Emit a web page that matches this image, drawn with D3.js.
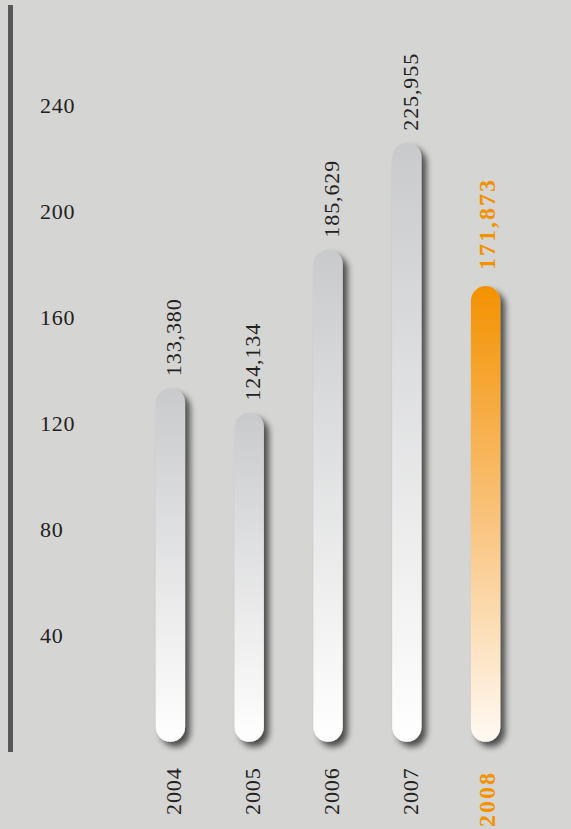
<!DOCTYPE html>
<html>
<head>
<meta charset="utf-8">
<script src="https://cdn.jsdelivr.net/npm/d3@7"></script>
<style>
  body { margin: 0; background: #d5d5d3; }
  svg { display: block; }
</style>
</head>
<body>
<svg width="571" height="829"></svg>
<script>
// values in thousands
const years = ["2004", "2005", "2006", "2007", "2008"];
const values = [133.380, 124.134, 185.629, 225.955, 171.873];
const valueLabels = ["133,380", "124,134", "185,629", "225,955", "171,873"];
const ticks = [40, 80, 120, 160, 200, 240];

const svg = d3.select("svg");

const y = d3.scaleLinear().domain([0, 240]).range([741.7, 105.5]);
const x = d3.scaleBand().domain(years).range([131, 525])
  .paddingInner(0.628).paddingOuter(0.314);

const defs = svg.append("defs");

// gradients
const grey = defs.append("linearGradient").attr("id", "grey")
  .attr("x1", 0).attr("y1", 0).attr("x2", 0).attr("y2", 1);
grey.append("stop").attr("offset", "0%").attr("stop-color", "#c9cacc");
grey.append("stop").attr("offset", "100%").attr("stop-color", "#ffffff");

const orange = defs.append("linearGradient").attr("id", "orange")
  .attr("x1", 0).attr("y1", 0).attr("x2", 0).attr("y2", 1);
orange.append("stop").attr("offset", "0%").attr("stop-color", "#f39200");
orange.append("stop").attr("offset", "50%").attr("stop-color", "#f9c27a");
orange.append("stop").attr("offset", "100%").attr("stop-color", "#fffaf4");

// drop shadow
const f = defs.append("filter").attr("id", "shadow")
  .attr("x", "-50%").attr("y", "-10%").attr("width", "200%").attr("height", "130%");
f.append("feGaussianBlur").attr("in", "SourceAlpha").attr("stdDeviation", 3.2);
f.append("feOffset").attr("dx", 5).attr("dy", 5).attr("result", "blur");
f.append("feComponentTransfer").append("feFuncA").attr("type", "linear").attr("slope", 0.65);
const merge = f.append("feMerge");
merge.append("feMergeNode");
merge.append("feMergeNode").attr("in", "SourceGraphic");

// left axis line
svg.append("rect")
  .attr("x", 8).attr("y", 5).attr("width", 5).attr("height", 747)
  .attr("fill", "#58585a");

const font = "Liberation Serif, serif";

// tick labels
svg.append("g").selectAll("text")
  .data(ticks)
  .join("text")
  .attr("x", 40)
  .attr("y", d => y(d))
  .attr("dy", "0.35em")
  .attr("font-family", font)
  .attr("font-size", 22)
  .attr("letter-spacing", 0.8)
  .attr("fill", "#222")
  .text(d => d);

// bars
const bw = x.bandwidth();
svg.append("g").selectAll("rect")
  .data(values)
  .join("rect")
  .attr("x", (d, i) => x(years[i]))
  .attr("y", d => y(d))
  .attr("width", bw)
  .attr("height", d => y(0) - y(d))
  .attr("rx", bw / 2)
  .attr("ry", bw / 2)
  .attr("fill", (d, i) => i === 4 ? "url(#orange)" : "url(#grey)")
  .attr("filter", "url(#shadow)");

const hi = i => i === 4;

// value labels
svg.append("g").selectAll("text")
  .data(values)
  .join("text")
  .attr("transform", (d, i) => `translate(${x(years[i]) + bw / 2 + (hi(i) ? 9 : 11)},${y(d) - (hi(i) ? 16 : 12)}) rotate(-90)`)
  .attr("font-family", font)
  .attr("font-size", (d, i) => hi(i) ? 24 : 22)
  .attr("letter-spacing", (d, i) => hi(i) ? 2 : 0.9)
  .attr("font-weight", (d, i) => hi(i) ? "bold" : "normal")
  .attr("fill", (d, i) => hi(i) ? "#f39200" : "#222")
  .text((d, i) => valueLabels[i]);

// year labels
svg.append("g").selectAll("text")
  .data(years)
  .join("text")
  .attr("transform", (d, i) => `translate(${x(d) + bw / 2 + (hi(i) ? 9 : 11)},${hi(i) ? 827 : 815}) rotate(-90)`)
  .attr("font-family", font)
  .attr("font-size", (d, i) => hi(i) ? 24 : 22)
  .attr("letter-spacing", (d, i) => hi(i) ? 2 : 0.9)
  .attr("font-weight", (d, i) => hi(i) ? "bold" : "normal")
  .attr("fill", (d, i) => hi(i) ? "#f39200" : "#222")
  .text(d => d);
</script>
</body>
</html>
